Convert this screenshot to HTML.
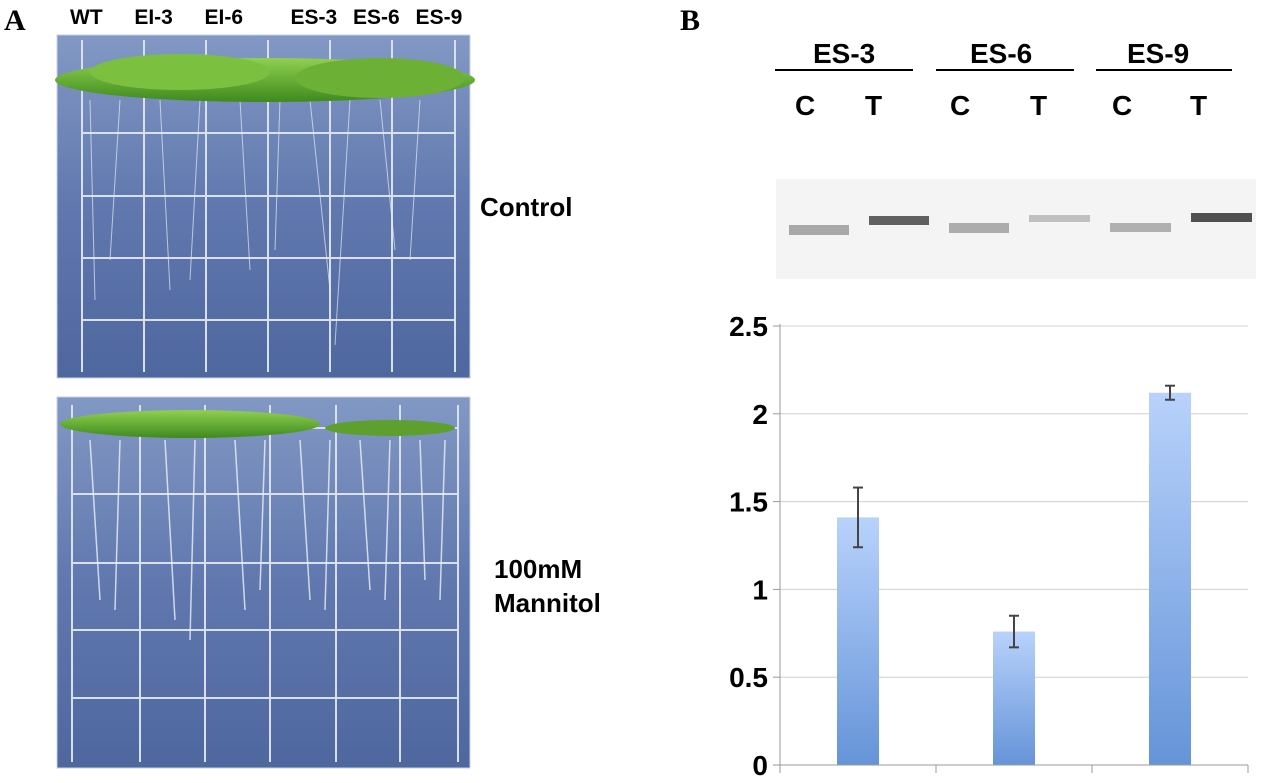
<!DOCTYPE html>
<html><head><meta charset="utf-8"><style>
body{margin:0;width:1280px;height:783px;background:#fff;position:relative;overflow:hidden;font-family:"Liberation Sans",sans-serif}
.abs{position:absolute}
.lbl{font-weight:bold;color:#000}
svg{overflow:visible}
</style></head><body>
<div class="abs lbl" style="left:4px;top:4px;font-family:'Liberation Serif',serif;font-size:30px">A</div>
<div class="abs lbl" style="left:680px;top:4px;font-family:'Liberation Serif',serif;font-size:30px">B</div>
<div class="abs lbl" style="left:70px;top:6px;font-size:21px;word-spacing:10px;white-space:nowrap">WT &nbsp;EI-3 &nbsp;EI-6 &nbsp;&nbsp;ES-3 ES-6 ES-9</div>

<svg class="abs" style="left:0;top:0" width="740" height="783">
<defs><linearGradient id="pg" x1="0" y1="0" x2="0" y2="1"><stop offset="0" stop-color="#8298c4"/><stop offset="0.5" stop-color="#6078ae"/><stop offset="1" stop-color="#4e679e"/></linearGradient>
<linearGradient id="lf" x1="0" y1="0" x2="0" y2="1"><stop offset="0" stop-color="#8fd050"/><stop offset="1" stop-color="#3f8a1e"/></linearGradient></defs>
<g>
<rect x="57" y="35" width="413" height="343" fill="url(#pg)" stroke="#c8d0e0"/>
<g stroke="#d8e0ee" stroke-width="2" fill="none">
<line x1="82" y1="133" x2="455" y2="133"/><line x1="82" y1="196" x2="455" y2="196"/><line x1="82" y1="258" x2="455" y2="258"/><line x1="82" y1="320" x2="455" y2="320"/>
<line x1="82" y1="40" x2="82" y2="372"/><line x1="144" y1="40" x2="144" y2="372"/><line x1="206" y1="40" x2="206" y2="372"/><line x1="268" y1="40" x2="268" y2="372"/><line x1="330" y1="40" x2="330" y2="372"/><line x1="392" y1="40" x2="392" y2="372"/><line x1="455" y1="40" x2="455" y2="372"/></g>
<g stroke="#e6ecf4" stroke-width="1" opacity="0.7"><path d="M90 100 L95 300 M120 100 L110 260 M160 100 L170 290 M200 100 L190 280 M240 100 L250 270 M280 100 L275 250 M310 100 L330 290 M350 100 L335 345 M380 100 L395 250 M420 100 L410 260"/></g>
<ellipse cx="265" cy="80" rx="210" ry="22" fill="url(#lf)"/>
<ellipse cx="180" cy="72" rx="90" ry="18" fill="#7cc040"/><ellipse cx="380" cy="78" rx="85" ry="20" fill="#6cb035"/></g>
<g>
<rect x="57" y="397" width="413" height="371" fill="url(#pg)" stroke="#c8d0e0"/>
<g stroke="#d8e0ee" stroke-width="2" fill="none">
<line x1="72" y1="428" x2="458" y2="428"/><line x1="72" y1="494" x2="458" y2="494"/><line x1="72" y1="563" x2="458" y2="563"/><line x1="72" y1="630" x2="458" y2="630"/><line x1="72" y1="698" x2="458" y2="698"/>
<line x1="72" y1="405" x2="72" y2="762"/><line x1="140" y1="405" x2="140" y2="762"/><line x1="205" y1="405" x2="205" y2="762"/><line x1="270" y1="405" x2="270" y2="762"/><line x1="336" y1="405" x2="336" y2="762"/><line x1="400" y1="405" x2="400" y2="762"/><line x1="458" y1="405" x2="458" y2="762"/></g>
<g stroke="#eef2f8" stroke-width="1.5" opacity="0.8"><path d="M90 440 L100 600 M120 440 L115 610 M165 440 L175 620 M195 440 L190 640 M235 440 L245 610 M265 440 L260 590 M300 440 L310 600 M330 440 L325 610 M360 440 L370 590 M390 440 L385 600 M420 440 L425 580 M445 440 L440 600"/></g>
<ellipse cx="190" cy="424" rx="130" ry="14" fill="url(#lf)"/><ellipse cx="390" cy="428" rx="65" ry="8" fill="#5ea02e"/></g>
</svg>
<div class="abs lbl" style="left:480px;top:192px;font-size:26px">Control</div>
<div class="abs lbl" style="left:494px;top:552px;font-size:26px;line-height:34px">100mM<br>Mannitol</div>

<div class="abs lbl" style="left:0;top:0;width:1280px;height:130px;font-size:28px">
<span class="abs" style="left:813px;top:38px">ES-3</span><span class="abs" style="left:970px;top:38px">ES-6</span><span class="abs" style="left:1127px;top:38px">ES-9</span>
<div class="abs" style="left:775px;top:69px;width:138px;height:2px;background:#000"></div>
<div class="abs" style="left:936px;top:69px;width:138px;height:2px;background:#000"></div>
<div class="abs" style="left:1096px;top:69px;width:136px;height:2px;background:#000"></div>
<span class="abs" style="left:795px;top:90px">C</span><span class="abs" style="left:865px;top:90px">T</span>
<span class="abs" style="left:950px;top:90px">C</span><span class="abs" style="left:1030px;top:90px">T</span>
<span class="abs" style="left:1112px;top:90px">C</span><span class="abs" style="left:1190px;top:90px">T</span></div>
<svg class="abs" style="left:776px;top:179px" width="480" height="100">
<rect width="480" height="100" fill="#f4f4f4"/>
<rect x="13" y="46" width="60" height="10" fill="#a8a8a8"/>
<rect x="93" y="37" width="60" height="9" fill="#606060"/>
<rect x="173" y="44" width="60" height="10" fill="#acacac"/>
<rect x="253" y="36" width="61" height="7" fill="#c0c0c0"/>
<rect x="334" y="44" width="61" height="9" fill="#b0b0b0"/>
<rect x="415" y="34" width="61" height="9" fill="#505050"/>
</svg>

<svg id="chart" class="abs" style="left:740px;top:310px" width="540" height="473">
<defs><linearGradient id="bg" x1="0" y1="0" x2="0" y2="1"><stop offset="0" stop-color="#b8d2fb"/><stop offset="1" stop-color="#6594d8"/></linearGradient></defs>
<g id="grid"></g><g id="bars"></g><g id="axes"></g></svg>
<script>
const categories=["ES-3","ES-6","ES-9"];
const values=[1.41,0.76,2.12];
const errHigh=[1.58,0.85,2.16];
const errLow=[1.24,0.67,2.08];
const ticks=[0,0.5,1,1.5,2,2.5];
const tickLabels=["0","0.5","1","1.5","2","2.5"];
const NS="http://www.w3.org/2000/svg";
const x0=40,x1=508,yTop=16,yBot=455,vmax=2.5;
const y=v=>yBot-(v/vmax)*(yBot-yTop);
const bw=(x1-x0)/categories.length;
const xc=i=>x0+bw*(i+0.5);
function mk(t,a,p){const e=document.createElementNS(NS,t);for(const k in a)e.setAttribute(k,a[k]);p.appendChild(e);return e;}
const g=document.getElementById('grid'),b=document.getElementById('bars'),ax=document.getElementById('axes');
ticks.forEach((t,i)=>{
 if(t>0){const l=mk('line',{x1:x0,x2:x1,y1:y(t),y2:y(t),stroke:'#d0d0d0'},g);
 
 }
 mk('line',{x1:x0-7,x2:x0,y1:y(t),y2:y(t),stroke:'#999'},ax);
 const tx=mk('text',{x:x0-12,y:y(t)+10,'text-anchor':'end','font-size':28,'font-weight':'bold','font-family':'Liberation Sans, sans-serif'},ax);
 tx.textContent=tickLabels[i];
 
 
});
mk('line',{x1:x0,x2:x0,y1:yTop-2,y2:yBot+8,stroke:'#999'},ax);
mk('line',{x1:x0,x2:x1,y1:yBot,y2:yBot,stroke:'#999'},ax);
for(let i=0;i<=categories.length;i++)mk('line',{x1:x0+bw*i,x2:x0+bw*i,y1:yBot,y2:yBot+8,stroke:'#999'},ax);
values.forEach((v,i)=>{
 const r=mk('rect',{x:xc(i)-21,y:y(v),width:42,height:yBot-y(v),fill:'url(#bg)'},b);
 
 
 const eg=mk('g',{stroke:'#444','stroke-width':2},b);
 
 
 mk('line',{x1:xc(i),x2:xc(i),y1:y(errHigh[i]),y2:y(errLow[i])},eg);
 mk('line',{x1:xc(i)-5,x2:xc(i)+5,y1:y(errHigh[i]),y2:y(errHigh[i])},eg);
 mk('line',{x1:xc(i)-5,x2:xc(i)+5,y1:y(errLow[i]),y2:y(errLow[i])},eg);
});
</script>
</body></html>
